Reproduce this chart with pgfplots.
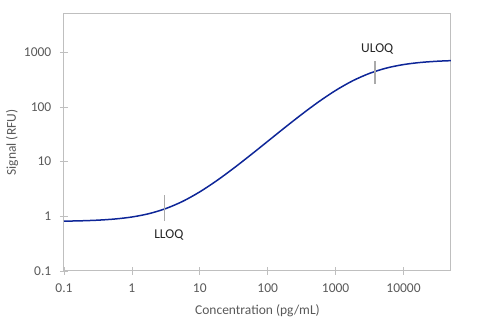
\documentclass[border=0pt]{standalone}
\usepackage{pgfplots}
\pgfplotsset{compat=1.18}
\usepackage{fontspec}
\setmainfont{Carlito}
\usetikzlibrary{calc}
\definecolor{curveblue}{RGB}{14,38,152}
\definecolor{framegray}{RGB}{191,191,191}
\definecolor{markgray}{RGB}{170,170,170}
\definecolor{labelgray}{RGB}{89,89,89}
\begin{document}
\fontsize{13.5}{16}\selectfont
\begin{tikzpicture}
\begin{axis}[
  name=ax, scale only axis, width=387pt, height=257pt,
  xmode=log, ymode=log,
  xmin=0.1, xmax=50000, ymin=0.1, ymax=5000,
  xtick={0.1,1,10,100,1000,10000}, xticklabels={0.1,1,10,100,1000,10000},
  ytick={0.1,1,10,100,1000}, yticklabels={0.1,1,10,100,1000},
  xminorticks=false, yminorticks=false,
  xtick pos=bottom, ytick pos=left,
  tick align=center, major tick length=8pt,
  every tick/.style={framegray, line width=0.8pt},
  axis line style={framegray, line width=1pt},
  ticklabel style={text=labelgray, font=\fontsize{13.5}{16}\selectfont},
  xticklabel shift=4pt, yticklabel shift=4pt,
  /pgf/number format/assume math mode=true,
  xlabel={Concentration (pg/mL)}, ylabel={Signal (RFU)},
  label style={text=labelgray, font=\fontsize{13.5}{16}\selectfont},
  x label style={at={(axis description cs:0.5,-0.1556)}, anchor=center},
  y label style={at={(axis description cs:-0.1344,0.5)}, anchor=center},
]
% fitted dose-response curve
\addplot[curveblue, line width=1.5pt, smooth] coordinates {
  (0.1,0.815) (0.1778,0.827) (0.3162,0.850) (0.5623,0.893)
  (1,0.971) (1.778,1.117) (3.162,1.386) (5.623,1.882)
  (10,2.80) (17.78,4.49) (31.62,7.59) (56.23,13.26)
  (100,23.5) (177.8,41.7) (316.2,73.0) (562.3,124.0)
  (1000,200.0) (1778,299.8) (3162,410.9) (5623,514.1)
  (10000,594.8) (17783,650.1) (31623,684.5) (50000,701.4)
};
% limits of quantification
\addplot[markgray, line width=1.2pt] coordinates {(3.05,0.82) (3.05,2.5)};
\addplot[markgray, line width=1.2pt] coordinates {(3800,260) (3800,700)};
\node[text=black!85] at (axis cs:3.5,0.45) {LLOQ};
\node[text=black!85] at (axis cs:4100,1150) {ULOQ};
\end{axis}
\pgfresetboundingbox
\path ($(ax.south west)+(-64pt,-62pt)$) rectangle ($(ax.north east)+(29pt,14pt)$);
\end{tikzpicture}
\end{document}
